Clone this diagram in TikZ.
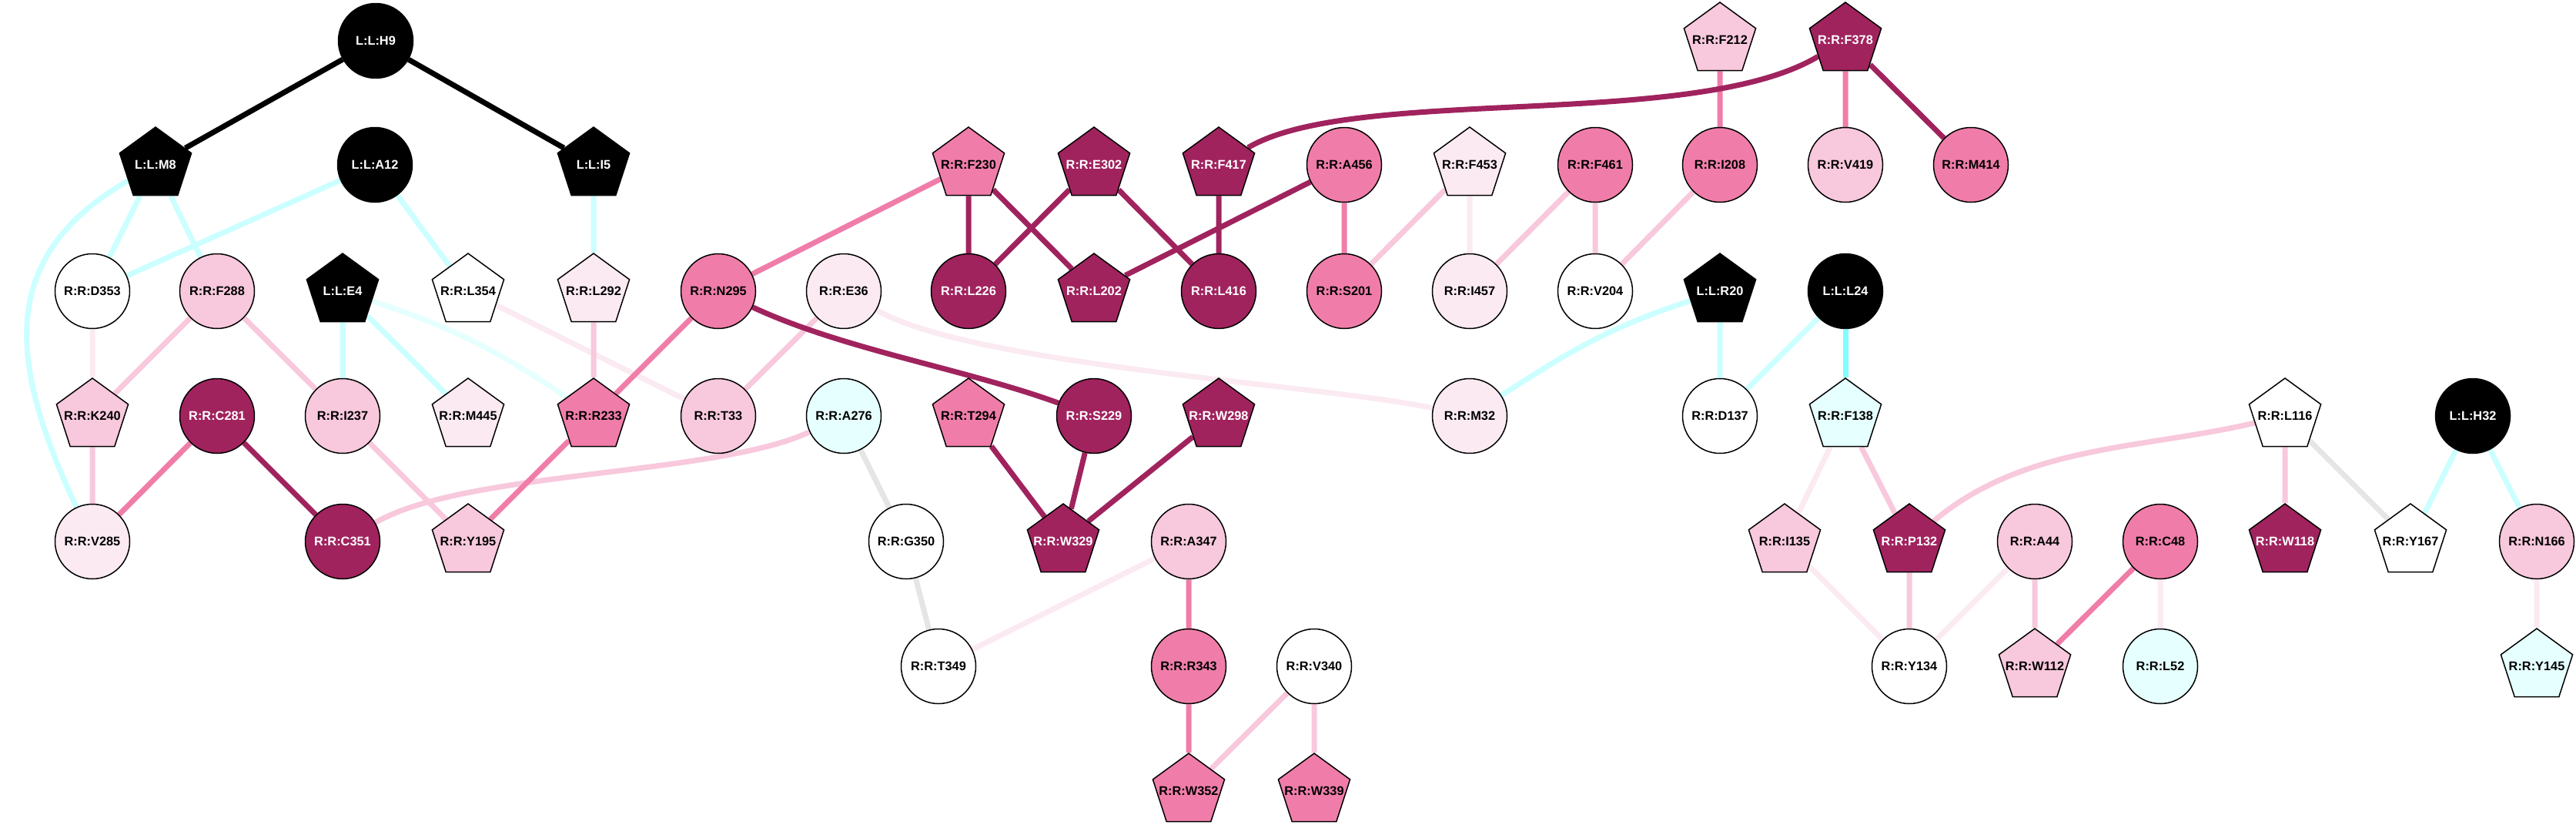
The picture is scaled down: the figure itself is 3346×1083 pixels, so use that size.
\documentclass[tikz,border=0pt]{standalone}
\usepackage{fontspec}
\setmainfont{Liberation Sans}
\usetikzlibrary{shapes.geometric,backgrounds}
\definecolor{dkpink}{HTML}{A0235E}
\definecolor{mdpink}{HTML}{F07DA9}
\definecolor{ltpink}{HTML}{F8C8DC}
\definecolor{vlpink}{HTML}{FBEAF2}
\definecolor{lcyan}{HTML}{E6FFFF}
\definecolor{ecyan}{HTML}{CCFFFF}
\definecolor{bcyan}{HTML}{80FFFF}
\definecolor{egrey}{HTML}{E5E5E5}
\tikzset{res/.style={draw,line width=0.45pt,inner sep=0pt,font=\bfseries\fontsize{4.9pt}{5pt}\selectfont,
  execute at begin node={\hbox to 0pt\bgroup\hss}, execute at end node={\hss\egroup}}}
\tikzset{rc/.style={res,circle,minimum size=29.1pt}}
\tikzset{rp/.style={res,regular polygon,regular polygon sides=5,minimum size=29.4pt}}
\tikzset{kk/.style={fill=black,text=white},dk/.style={fill=dkpink,text=white},md/.style={fill=mdpink},
  lt/.style={fill=ltpink},vl/.style={fill=vlpink},wh/.style={fill=white},cy/.style={fill=lcyan}}
\tikzset{link/.style={line width=2.1pt}}

\begin{document}
\begin{tikzpicture}[x=0.3pt,y=0.3pt]
    \useasboundingbox (0,0) rectangle (3346,-1083);
    % row 0
    \node [rc,kk] at (488,-53) (H9) {L:L:H9};
    \node [rp,lt] at (2234,-52) (F212) {R:R:F212};
    \node [rp,dk] at (2397,-52) (F378) {R:R:F378};
    % row 1
    \node [rp,kk] at (202,-214) (M8) {L:L:M8};
    \node [rc,kk] at (487,-214) (A12) {L:L:A12};
    \node [rp,kk] at (771,-214) (I5) {L:L:I5};
    \node [rp,md] at (1258,-214) (F230) {R:R:F230};
    \node [rp,dk] at (1421,-214) (E302) {R:R:E302};
    \node [rp,dk] at (1583,-214) (F417) {R:R:F417};
    \node [rc,md] at (1746,-214) (A456) {R:R:A456};
    \node [rp,vl] at (1909,-214) (F453) {R:R:F453};
    \node [rc,md] at (2072,-214) (F461) {R:R:F461};
    \node [rc,md] at (2234,-214) (I208) {R:R:I208};
    \node [rc,lt] at (2397,-214) (V419) {R:R:V419};
    \node [rc,md] at (2560,-214) (M414) {R:R:M414};
    % row 2
    \node [rc,wh] at (120,-378) (D353) {R:R:D353};
    \node [rc,lt] at (282,-378) (F288) {R:R:F288};
    \node [rp,kk] at (445,-378) (E4) {L:L:E4};
    \node [rp,wh] at (608,-378) (L354) {R:R:L354};
    \node [rp,vl] at (771,-378) (L292) {R:R:L292};
    \node [rc,md] at (933,-378) (N295) {R:R:N295};
    \node [rc,vl] at (1096,-378) (E36) {R:R:E36};
    \node [rc,dk] at (1258,-378) (L226) {R:R:L226};
    \node [rp,dk] at (1421,-378) (L202) {R:R:L202};
    \node [rc,dk] at (1583,-378) (L416) {R:R:L416};
    \node [rc,md] at (1746,-378) (S201) {R:R:S201};
    \node [rc,vl] at (1909,-378) (I457) {R:R:I457};
    \node [rc,wh] at (2072,-378) (V204) {R:R:V204};
    \node [rp,kk] at (2234,-378) (R20) {L:L:R20};
    \node [rc,kk] at (2397,-378) (L24) {L:L:L24};
    % row 3
    \node [rp,lt] at (120,-540) (K240) {R:R:K240};
    \node [rc,dk] at (282,-540) (C281) {R:R:C281};
    \node [rc,lt] at (445,-540) (I237) {R:R:I237};
    \node [rp,vl] at (608,-540) (M445) {R:R:M445};
    \node [rp,md] at (771,-540) (R233) {R:R:R233};
    \node [rc,lt] at (933,-540) (T33) {R:R:T33};
    \node [rc,cy] at (1096,-540) (A276) {R:R:A276};
    \node [rp,md] at (1258,-540) (T294) {R:R:T294};
    \node [rc,dk] at (1421,-540) (S229) {R:R:S229};
    \node [rp,dk] at (1583,-540) (W298) {R:R:W298};
    \node [rc,vl] at (1909,-540) (M32) {R:R:M32};
    \node [rc,wh] at (2234,-540) (D137) {R:R:D137};
    \node [rp,cy] at (2397,-540) (F138) {R:R:F138};
    \node [rp,wh] at (2968,-540) (L116) {R:R:L116};
    \node [rc,kk] at (3212,-540) (H32) {L:L:H32};
    % row 4
    \node [rc,vl] at (120,-703) (V285) {R:R:V285};
    \node [rc,dk] at (445,-703) (C351) {R:R:C351};
    \node [rp,lt] at (608,-703) (Y195) {R:R:Y195};
    \node [rc,wh] at (1177,-703) (G350) {R:R:G350};
    \node [rp,dk] at (1381,-703) (W329) {R:R:W329};
    \node [rc,lt] at (1544,-703) (A347) {R:R:A347};
    \node [rp,lt] at (2318,-703) (I135) {R:R:I135};
    \node [rp,dk] at (2480,-703) (P132) {R:R:P132};
    \node [rc,lt] at (2643,-703) (A44) {R:R:A44};
    \node [rc,md] at (2806,-703) (C48) {R:R:C48};
    \node [rp,dk] at (2968,-703) (W118) {R:R:W118};
    \node [rp,wh] at (3131,-703) (Y167) {R:R:Y167};
    \node [rc,lt] at (3295,-703) (N166) {R:R:N166};
    % row 5
    \node [rc,wh] at (1219,-865) (T349) {R:R:T349};
    \node [rc,md] at (1544,-865) (R343) {R:R:R343};
    \node [rc,wh] at (1707,-865) (V340) {R:R:V340};
    \node [rc,wh] at (2480,-865) (Y134) {R:R:Y134};
    \node [rp,lt] at (2643,-865) (W112) {R:R:W112};
    \node [rc,cy] at (2806,-865) (L52) {R:R:L52};
    \node [rp,cy] at (3295,-865) (Y145) {R:R:Y145};
    % row 6
    \node [rp,md] at (1544,-1027) (W352) {R:R:W352};
    \node [rp,md] at (1707,-1027) (W339) {R:R:W339};
    \begin{pgfonlayer}{background}
    \fill [white] (0,0) rectangle (3346,-1083);
    \draw [link,black] (H9) -- (M8) (H9) -- (I5);
    \draw [link,ecyan] (M8) -- (D353) (M8) -- (F288) (M8) to [out=210,in=115,looseness=1.2] (V285)
        (A12) -- (D353) (A12) -- (L354) (I5) -- (L292) (E4) -- (I237) (E4) -- (M445)
        (R20) to [out=198,in=33] (M32) (R20) -- (D137) (L24) -- (D137) (H32) -- (Y167) (H32) -- (N166);
    \draw [link,lcyan] (E4) to [bend left=8] (R233);
    \draw [link,bcyan] (L24) -- (F138);
    \draw [link,vlpink] (D353) -- (K240) (L354) -- (T33) (E36) to [out=-30,in=168,looseness=0.5] (M32)
        (F453) -- (I457) (A347) -- (T349) (F138) -- (I135) (I135) -- (Y134) (A44) -- (Y134)
        (C48) -- (L52) (N166) -- (Y145);
    \draw [link,ltpink] (F288) -- (K240) (F288) -- (I237) (K240) -- (V285) (I237) -- (Y195)
        (L292) -- (R233) (C351) to [out=30,in=205,looseness=0.6] (A276) (E36) -- (T33)
        (F453) -- (S201) (F461) -- (I457) (F461) -- (V204) (I208) -- (V204) (V340) -- (W352)
        (V340) -- (W339) (F138) -- (P132) (P132) -- (Y134) (L116) to [out=193,in=40,looseness=0.9] (P132)
        (L116) -- (W118) (A44) -- (W112);
    \draw [link,mdpink] (C281) -- (V285) (R233) -- (Y195) (N295) -- (R233) (N295) -- (F230)
        (A456) -- (S201) (F212) -- (I208) (F378) -- (V419) (A347) -- (R343) (R343) -- (W352) (C48) -- (W112);
    \draw [link,dkpink] (C281) -- (C351) (N295) to [out=-25,in=160,looseness=0.8] (S229)
        (F230) -- (L226) (F230) -- (L202) (E302) -- (L226) (E302) -- (L416) (F417) -- (L416)
        (F417) .. controls (1760,-110) and (2200,-170) .. (F378) (L202) -- (A456)
        (T294) -- (W329) (S229) -- (W329) (W298) -- (W329) (F378) -- (M414);
    \draw [link,egrey] (A276) -- (G350) (G350) -- (T349) (L116) -- (Y167);
    \end{pgfonlayer}
\end{tikzpicture}
\end{document}
